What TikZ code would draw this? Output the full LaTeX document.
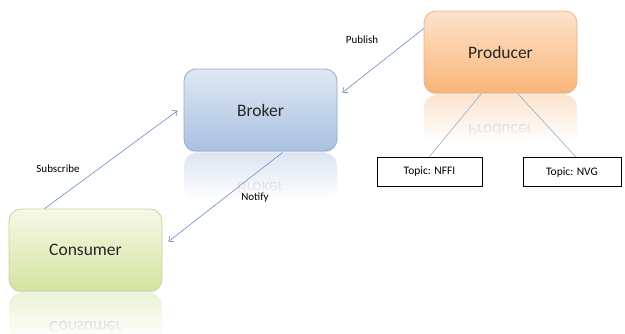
\documentclass[tikz,border=0pt]{standalone}
\usepackage{fontspec}
\setmainfont{Carlito}
\usetikzlibrary{arrows.meta,calc,fadings,shadows}
\definecolor{brkTop}{HTML}{DFE8F3}
\definecolor{brkBot}{HTML}{A9C1E1}
\definecolor{brkLine}{HTML}{8EACD4}
\definecolor{brkRefl}{HTML}{D3DFEF}
\definecolor{prodTop}{HTML}{FDE3CC}
\definecolor{prodBot}{HTML}{F9B578}
\definecolor{prodLine}{HTML}{F4B07A}
\definecolor{prodRefl}{HTML}{FCDCC0}
\definecolor{consTop}{HTML}{F5F9E6}
\definecolor{consBot}{HTML}{D5E3A1}
\definecolor{consLine}{HTML}{C5D79C}
\definecolor{consRefl}{HTML}{E8F0CC}
\definecolor{arrowC}{HTML}{6A8CC4}
\definecolor{topicC}{HTML}{94AECB}
\tikzfading[name=towhite, top color=transparent!80, bottom color=transparent!0]
\tikzset{
  bigbox/.style={rounded corners=12pt, minimum width=153pt, minimum height=82pt,
    inner sep=0pt, line width=0.8pt, font=\fontsize{17.5}{20}\selectfont, text=black!85,
    drop shadow={shadow xshift=0pt, shadow yshift=-1.5pt, opacity=0.2}},
  topicbox/.style={draw=black, line width=0.9pt, fill=white, minimum height=29pt,
    inner sep=0pt, font=\fontsize{11.5}{13}\selectfont},
  lbl/.style={font=\fontsize{11}{13}\selectfont, inner sep=0pt},
  conn/.style={draw=arrowC, line width=0.6pt, -{Straight Barb[length=4pt,width=7pt]}},
  topicline/.style={draw=topicC, line width=0.6pt},
  refltext/.style={font=\fontsize{17.5}{20}\selectfont, text=black!45, inner sep=0pt}
}
\begin{document}
\begin{tikzpicture}[x=1pt,y=-1pt]
\useasboundingbox (0,0) rectangle (625,333);
\fill[white] (0,0) rectangle (625,333);

% reflections
\fill[brkRefl, rounded corners=12pt] (184,153) rectangle (337,200);
\node[refltext] (brkR) at (260.5,189) {\scalebox{1}[-1]{Broker}};
\fill[white, path fading=towhite] (180,152) rectangle (341,199);
\fill[white] (180,199) rectangle (341,214);

\fill[prodRefl, rounded corners=12pt] (424,95) rectangle (577,142);
\node[refltext] (prodR) at (500.5,131) {\scalebox{1}[-1]{Producer}};
\fill[white, path fading=towhite] (420,94) rectangle (581,141);
\fill[white] (420,141) rectangle (581,156);

\fill[consRefl, rounded corners=12pt] (9,293) rectangle (162,340);
\node[refltext] (consR) at (85.5,327) {\scalebox{1}[-1]{Consumer}};
\fill[white, path fading=towhite] (5,292) rectangle (166,339);

% main boxes
\node[bigbox, draw=brkLine, top color=brkTop, bottom color=brkBot] (brk) at (260.5,110) {\raisebox{-3pt}{Broker}};
\node[bigbox, draw=prodLine, top color=prodTop, bottom color=prodBot] (prod) at (500.5,52) {\raisebox{-3pt}{Producer}};
\node[bigbox, draw=consLine, top color=consTop, bottom color=consBot] (cons) at (85.5,250) {\raisebox{-4pt}{Consumer}};

% topics
\node[topicbox, minimum width=105pt] (nffi) at (429.5,171.5) {Topic: NFFI};
\node[topicbox, minimum width=98pt] (nvg) at (572,172) {Topic: NVG};

\draw[topicline] ($(prod.south west)+(58,0)$) -- (nffi.north);
\draw[topicline] ($(prod.south west)+(94,0)$) -- ($(nvg.north)+(4,0)$);

% connectors
\draw[conn] ($(prod.north west)+(0,18)$) -- ($(brk.north east)+(5,24)$);
\draw[conn] ($(cons.north west)+(36,0)$) -- ($(brk.north west)+(-6,42)$);
\draw[conn] ($(brk.south west)+(99,1)$) -- ($(cons.north east)+(6,33)$);

% labels
\node[lbl] (pub) at (362,40) {Publish};
\node[lbl] (sub) at (58,169) {Subscribe};
\node[lbl] (ntf) at (255,198) {Notify};
\end{tikzpicture}
\end{document}
